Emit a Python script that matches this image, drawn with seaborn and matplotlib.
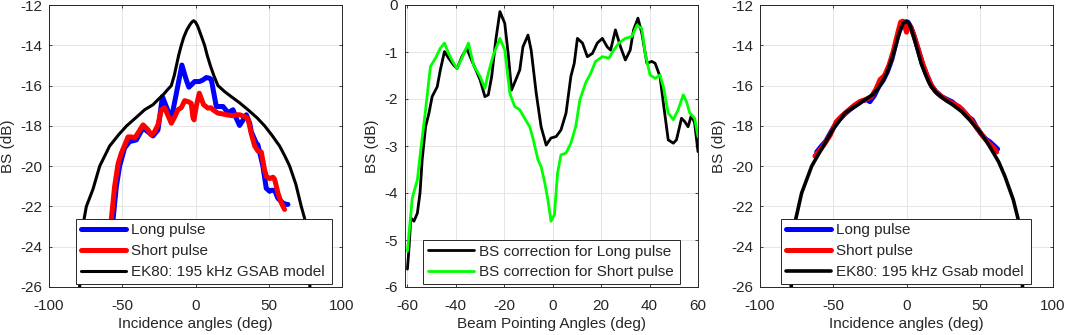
import numpy as np
import pandas as pd
import matplotlib
matplotlib.use('Agg')
import matplotlib.pyplot as plt
import seaborn as sns

# ---- data (x in deg, y in dB) ----
# panel 1: measured BS vs incidence angle + EK80 GSAB model
long1 = [(-57.5, -24.0), (-56.3, -22.66), (-54.0, -21.0), (-51.8, -20.0), (-48.4, -19.1),
         (-45, -18.78), (-40.4, -18.7), (-35.8, -18.1), (-32.4, -18.3), (-29, -18.5),
         (-25.6, -18.2), (-22.6, -16.55), (-19.9, -17.05), (-16.5, -17.65), (-13.1, -16.4),
         (-9.3, -14.98), (-6.3, -15.72), (-4.5, -16.08), (-0.6, -15.8), (2.8, -15.8),
         (5.1, -15.72), (7.4, -15.6), (9.7, -15.64), (10.8, -15.7), (14.2, -17.04),
         (18.8, -17.04), (22.2, -17.35), (25.6, -17.2), (28.3, -17.7), (30.1, -17.98),
         (34.7, -17.45), (37, -17.87), (38.1, -18.3), (41.5, -18.86), (42.6, -18.94),
         (46, -20.0), (48.3, -21.1), (50.6, -21.25), (51.7, -21.2), (54, -21.2),
         (56.3, -21.6), (59.7, -21.83), (62, -21.9), (63.1, -21.9)]
short1 = [(-58.5, -24.0), (-57.5, -22.66), (-55.2, -21.0), (-52.9, -19.9), (-50.6, -19.35),
          (-48, -18.9), (-46.1, -18.55), (-43.5, -18.55), (-41.5, -18.6), (-39.3, -18.36),
          (-35.8, -17.95), (-32.4, -18.2), (-30.2, -18.45), (-28, -18.3), (-25.6, -17.95),
          (-23.3, -17.2), (-21.1, -17.1), (-19.9, -17.3), (-16.5, -17.87), (-14.5, -17.6),
          (-12, -17.2), (-9.7, -17.1), (-7.4, -16.75), (-5, -16.8), (-2.9, -16.88),
          (-1.7, -17.6), (-1.0, -17.7), (0.6, -17.0), (2.6, -16.38), (5.5, -16.95),
          (8.5, -17.12), (10.5, -17.1), (11.9, -17.2), (15.3, -17.37), (18, -17.4),
          (21.1, -17.45), (25.6, -17.5), (28, -17.45), (30.1, -17.45), (34.7, -17.57),
          (36, -17.7), (38.1, -18.4), (40.4, -19.0), (42.6, -19.25), (44.9, -19.3),
          (47.2, -20.2), (48.3, -20.5), (50.6, -20.62), (52.9, -20.55), (54, -20.65),
          (56.3, -21.34), (58.6, -21.83), (60.8, -22.15)]
model1 = [(-79.5, -26.5), (-77.5, -24.0), (-76, -22.6), (-74.5, -22.0), (-70, -21.15),
          (-65.4, -20.0), (-58.6, -19.0), (-52, -18.4), (-47, -18.0), (-40, -17.55),
          (-34.7, -17.2), (-29, -16.95), (-25.6, -16.7), (-22, -16.45), (-19, -16.2),
          (-16.5, -16.0), (-14.5, -15.5), (-13, -15.0), (-11.5, -14.5), (-9.7, -14.0),
          (-8, -13.6), (-6, -13.25), (-4, -13.0), (-2.5, -12.85), (-1.3, -12.78),
          (0, -12.85), (1.5, -13.05), (3, -13.35), (4.5, -13.65), (6.2, -14.0),
          (8, -14.5), (10.1, -15.0), (12.5, -15.5), (15.3, -16.0), (19.9, -16.3),
          (24.4, -16.55), (30, -16.85), (35.8, -17.2), (42, -17.6), (47.2, -18.0),
          (52, -18.45), (57.4, -19.0), (61, -19.5), (64.3, -20.0), (68.5, -20.9),
          (72.2, -22.0), (74.5, -22.6), (76.5, -24.0), (78.5, -26.5)]

# panel 2: BS correction vs beam pointing angle
corr_long = [(-60, -5.62), (-59.3, -5.14), (-58.6, -4.53), (-57.3, -4.6), (-55.9, -4.43),
             (-54.8, -4.0), (-53.9, -3.29), (-52.5, -2.59), (-51.1, -2.3), (-49.8, -1.95),
             (-47.7, -1.74), (-46.4, -1.38), (-44.7, -0.99), (-43, -1.13), (-40.9, -1.28),
             (-39.5, -1.35), (-37.5, -1.1), (-35.5, -0.92), (-34.1, -1.1), (-32, -1.35),
             (-30, -1.59), (-28, -1.95), (-26.6, -1.91), (-25.2, -1.52), (-23.5, -0.74),
             (-21.8, -0.14), (-19.8, -0.39), (-18.4, -1.03), (-17, -1.81), (-15, -1.56),
             (-13.6, -1.38), (-12.3, -0.89), (-10.2, -0.64), (-8.9, -0.96), (-6.8, -1.88),
             (-4.8, -2.59), (-2.7, -2.98), (-0.7, -2.83), (1.4, -2.8), (3.4, -2.66),
             (5.5, -2.3), (7.5, -1.52), (8.9, -1.24), (10.2, -0.71), (12.3, -0.81),
             (14.3, -1.1), (16.4, -1.03), (18.4, -0.81), (20.5, -0.71), (22.5, -0.89),
             (23.9, -0.96), (25.9, -0.53), (28, -0.89), (30, -1.17), (32, -0.96),
             (33.4, -0.53), (35.2, -0.28), (36.8, -0.6), (38.9, -1.24), (40.9, -1.2),
             (42.3, -1.24), (44.3, -1.52), (45.7, -2.09), (47.7, -2.87), (49.8, -2.94),
             (51.1, -2.87), (53.2, -2.41), (54.5, -2.48), (55.9, -2.59), (57.3, -2.34),
             (58.6, -2.51), (60, -3.12)]
corr_short = [(-60, -5.24), (-59.3, -4.85), (-58, -4.11), (-55.9, -3.72), (-54.5, -3.08),
              (-52.5, -2.23), (-50.5, -1.31), (-48.4, -1.13), (-46.4, -0.92), (-44.7, -0.81),
              (-43, -1.03), (-40.9, -1.24), (-39.5, -1.35), (-37.5, -1.13), (-34.8, -0.81),
              (-32.7, -1.28), (-30, -1.52), (-28, -1.77), (-26.6, -1.45), (-24.5, -1.06),
              (-21.8, -0.71), (-19.8, -0.96), (-17.7, -1.88), (-15.7, -2.16), (-13.6, -2.23),
              (-11.6, -2.41), (-9.5, -2.59), (-8.2, -2.83), (-6.1, -3.29), (-4.8, -3.44),
              (-3.4, -3.75), (-2, -4.14), (-0.7, -4.6), (0.7, -4.46), (2.0, -3.58),
              (3.4, -3.19), (5.5, -3.15), (7.5, -2.94), (9.5, -2.59), (11.2, -2.02),
              (13.6, -1.66), (15.7, -1.45), (17.7, -1.2), (20.5, -1.1), (23.2, -1.13),
              (25.2, -0.96), (27.3, -0.81), (30, -0.71), (32.7, -0.67), (34.8, -0.43),
              (36.8, -0.5), (38.2, -1.03), (40.2, -1.49), (42.3, -1.56), (44.3, -1.49),
              (45.7, -1.74), (47.7, -2.3), (49.8, -2.44), (51.8, -2.23), (53.9, -1.91),
              (55.2, -2.05), (56.6, -2.3), (58.6, -2.41), (60, -2.8)]

# panel 3: corrected BS vs incidence angle + model
long3 = [(-61.3, -19.3), (-58, -19.0), (-55, -18.75), (-50, -18.1), (-46, -17.7),
         (-42, -17.4), (-38, -17.15), (-34, -16.95), (-30, -16.75), (-27, -16.7),
         (-25, -16.8), (-22, -16.5), (-19, -16.05), (-16, -15.75), (-13, -15.3),
         (-10, -14.7), (-7, -13.8), (-5, -13.3), (-3, -13.0), (-1, -12.85),
         (1, -12.85), (3, -13.1), (5, -13.5), (8, -14.2), (11, -14.95),
         (14, -15.5), (17, -16.0), (20, -16.3), (24, -16.55), (28, -16.7),
         (31, -16.8), (35, -17.05), (38, -17.2), (42, -17.55), (45, -17.7),
         (48, -18.1), (51, -18.4), (54, -18.65), (57, -18.8), (60, -19.0), (62.2, -19.15)]
short3 = [(-62.5, -19.5), (-59, -19.2), (-56, -18.9), (-52, -18.45), (-48, -17.8),
          (-44, -17.5), (-40, -17.25), (-36, -17.0), (-32, -16.8), (-28, -16.7),
          (-24, -16.55), (-21, -16.2), (-18, -15.7), (-15, -15.5), (-12, -15.0),
          (-9, -14.3), (-6, -13.4), (-4, -12.85), (-2.5, -12.8), (-1, -13.1),
          (0, -13.35), (1, -13.0), (3, -13.1), (5, -13.5), (8, -14.2),
          (11, -14.9), (14, -15.5), (17, -16.0), (20, -16.3), (24, -16.55),
          (28, -16.75), (32, -16.9), (36, -17.05), (40, -17.35), (44, -17.7),
          (48, -18.1), (52, -18.5), (56, -18.85), (59, -19.05), (61.5, -19.3)]
model3 = [(-79, -26.5), (-77.5, -24.0), (-75.7, -22.66), (-71.6, -21.34), (-64.7, -20.0),
          (-60, -19.4), (-55.6, -18.86), (-50, -18.15), (-42, -17.37), (-35, -17.03),
          (-28.3, -16.7), (-23, -16.45), (-19.2, -16.13), (-16, -15.75), (-13.5, -15.4),
          (-11, -14.9), (-9, -14.45), (-7, -13.95), (-5.6, -13.55), (-4, -13.2),
          (-2.2, -12.9), (0, -12.8), (2, -12.95), (3.5, -13.24), (6, -13.85),
          (8.1, -14.4), (10, -14.9), (12.6, -15.39), (15, -15.8), (17.2, -16.08),
          (21, -16.4), (26.3, -16.7), (32, -16.98), (37.6, -17.29), (43, -17.7),
          (49, -18.2), (54, -18.7), (58.1, -19.19), (63, -19.8), (67.2, -20.51),
          (72.9, -21.67), (76.3, -22.66), (78, -24.0), (79.5, -26.5)]


def frame(points):
    return pd.DataFrame(points, columns=['x', 'y'])


sns.set_style('ticks')
plt.rcParams['font.family'] = ['Liberation Sans', 'DejaVu Sans']
plt.rcParams['axes.unicode_minus'] = False

DARK = '#262626'
FS = 11
fig = plt.figure(figsize=(10.65, 3.35), dpi=100)
ax1 = fig.add_axes([49 / 1065, 1 - 287 / 335, 293 / 1065, 282 / 335])
ax2 = fig.add_axes([405 / 1065, 1 - 287 / 335, 293 / 1065, 282 / 335])
ax3 = fig.add_axes([760 / 1065, 1 - 287 / 335, 293 / 1065, 282 / 335])


def draw(ax, d, color, lw, label):
    sns.lineplot(data=frame(d), x='x', y='y', ax=ax, color=color, linewidth=lw,
                 label=label, sort=False, estimator=None)


draw(ax1, long1, '#0000ff', 3.6, 'Long pulse')
draw(ax1, short1, '#ff0000', 3.6, 'Short pulse')
draw(ax1, model1, 'black', 2.2, 'EK80: 195 kHz GSAB model')

draw(ax2, corr_long, 'black', 2.0, 'BS correction for Long pulse')
draw(ax2, corr_short, '#00ff00', 2.0, 'BS correction for Short pulse')

draw(ax3, long3, '#0000ff', 3.6, 'Long pulse')
draw(ax3, short3, '#ff0000', 3.6, 'Short pulse')
draw(ax3, model3, 'black', 2.6, 'EK80: 195 kHz Gsab model')

legend_boxes = {
    ax1: (0.092, 0.012, 0.875, 0.229),
    ax2: (0.0625, 0.0106, 0.875, 0.156),
    ax3: (0.0717, 0.012, 0.853, 0.229),
}

for ax in (ax1, ax2, ax3):
    if ax is ax2:
        ax.set_xlim(-61, 60)
        ax.set_ylim(-6, 0)
        ax.set_xticks(np.arange(-60, 61, 20))
        ax.set_yticks(np.arange(-6, 0.1, 1))
        ax.set_xlabel('Beam Pointing Angles (deg)', fontsize=FS, color=DARK, labelpad=3)
    else:
        ax.set_xlim(-100, 100)
        ax.set_ylim(-26, -12)
        ax.set_xticks(np.arange(-100, 101, 50))
        ax.set_yticks(np.arange(-26, -11, 2))
        ax.set_xlabel('Incidence angles (deg)', fontsize=FS, color=DARK, labelpad=3)
    ax.set_ylabel('BS (dB)', fontsize=FS, color=DARK, labelpad=4)
    ax.grid(True, color='#e0e0e0', linewidth=0.6)
    ax.set_axisbelow(True)
    ax.tick_params(direction='in', length=2.5, width=0.6, top=True, right=True,
                   labelsize=FS, colors=DARK)
    ax.tick_params(axis='x', pad=8.5)
    ax.tick_params(axis='y', pad=5)
    for s in ax.spines.values():
        s.set_visible(True)
        s.set_color(DARK)
        s.set_linewidth(0.7)
    leg = ax.legend(loc='lower left', bbox_to_anchor=legend_boxes[ax], mode='expand',
                    borderaxespad=0, fontsize=FS, handlelength=3.0, handletextpad=0.33,
                    labelspacing=0.45, borderpad=0.3, fancybox=False, framealpha=1,
                    edgecolor=DARK)
    leg.get_frame().set_linewidth(0.7)
    leg.set_zorder(10)

fig.savefig('out.png', dpi=100)
